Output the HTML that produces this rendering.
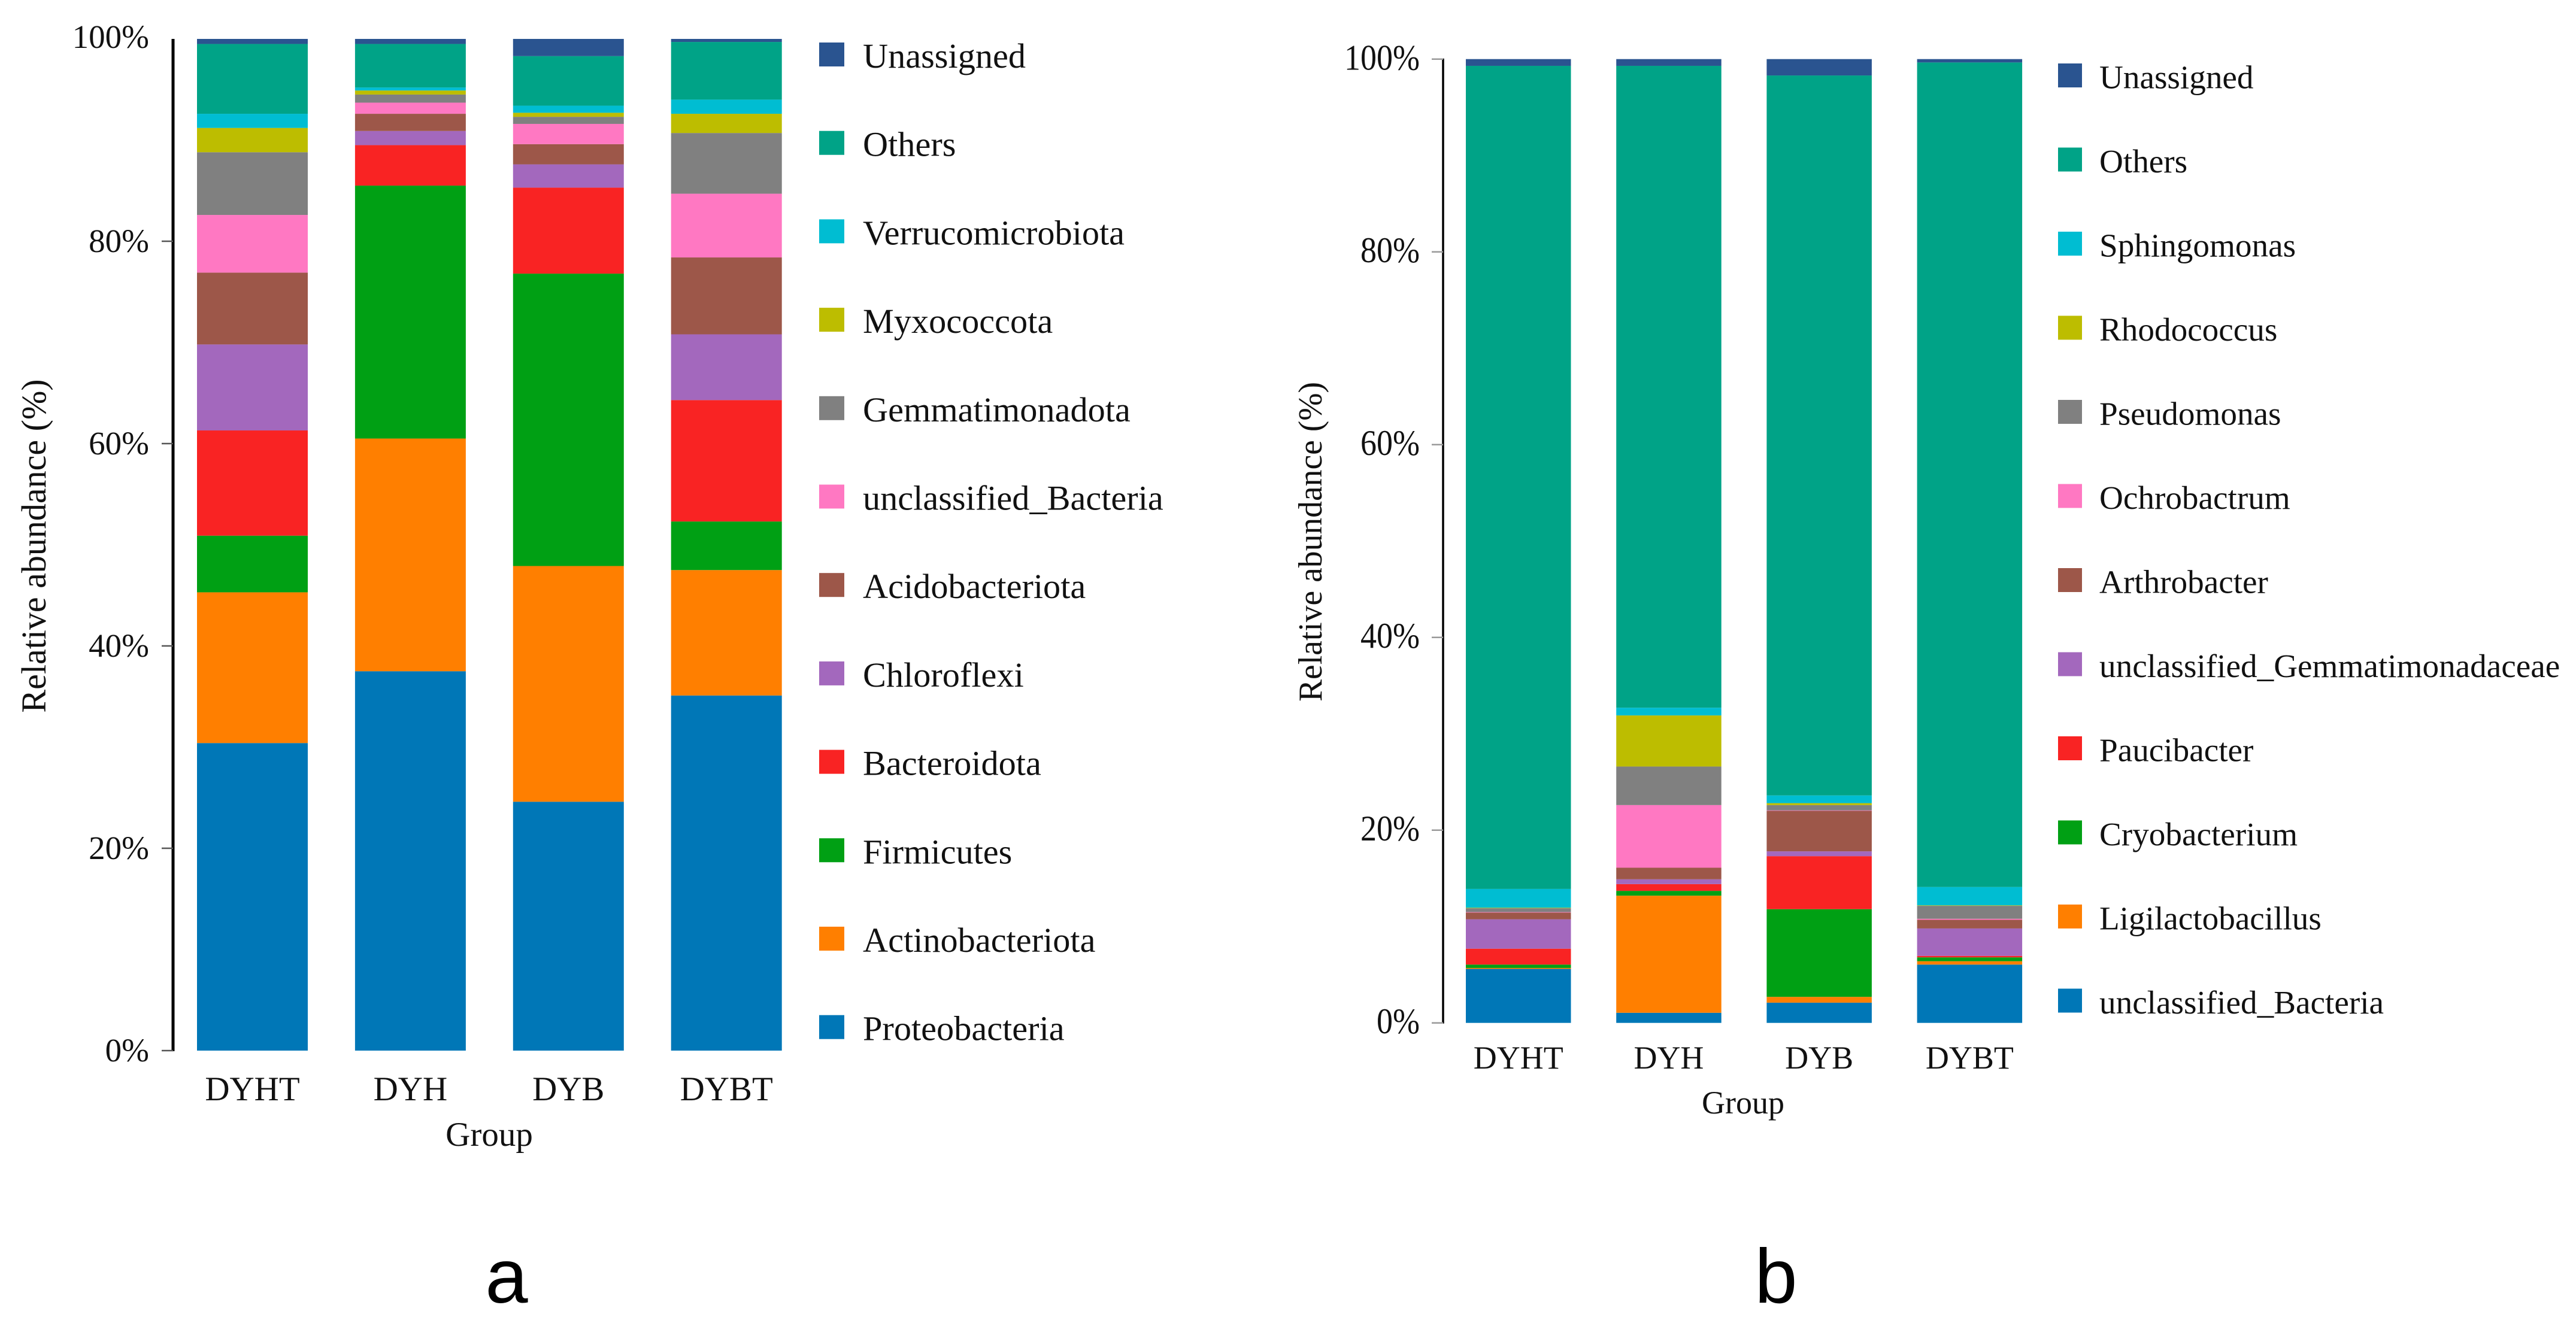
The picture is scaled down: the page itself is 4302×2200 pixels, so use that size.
<!DOCTYPE html>
<html lang="en">
<head>
<meta charset="utf-8">
<title>Relative abundance stacked bar charts</title>
<style>
html,body{margin:0;padding:0;background:#fff;width:4302px;height:2200px;overflow:hidden}
svg{display:block}
text{font-family:"Liberation Serif","Times New Roman",serif;fill:#111}
.panel-letter{font-family:"Liberation Sans",Arial,sans-serif;fill:#000}
</style>
</head>
<body>
<svg id="figure" xmlns="http://www.w3.org/2000/svg" width="4302" height="2200" viewBox="0 0 4302 2200">
  <rect x="0" y="0" width="4302" height="2200" fill="#ffffff"/>
</svg>
<script>
const groups = ['DYHT', 'DYH', 'DYB', 'DYBT'];
const tickValues = [0, 20, 40, 60, 80, 100];
const tickLabels = ['0%', '20%', '40%', '60%', '80%', '100%'];
const taxonColors = ['#0077b7', '#ff7f00', '#00a014', '#f92323', '#a368bd', '#9d5749', '#ff78c2', '#808080', '#bdbd00', '#00bdd2', '#00a387', '#2a5490'];

const phylaNames = ['Proteobacteria', 'Actinobacteriota', 'Firmicutes', 'Bacteroidota', 'Chloroflexi', 'Acidobacteriota', 'unclassified_Bacteria', 'Gemmatimonadota', 'Myxococcota', 'Verrucomicrobiota', 'Others', 'Unassigned'];
const phylaDYHT = [30.4, 14.9, 5.6, 10.4, 8.5, 7.1, 5.7, 6.2, 2.4, 1.4, 6.9, 0.5];
const phylaDYH = [37.5, 23.0, 25.0, 4.0, 1.4, 1.7, 1.1, 0.8, 0.4, 0.3, 4.3, 0.5];
const phylaDYB = [24.6, 23.3, 28.9, 8.5, 2.3, 2.0, 2.0, 0.7, 0.4, 0.7, 4.9, 1.7];
const phylaDYBT = [35.1, 12.4, 4.8, 12.0, 6.5, 7.6, 6.3, 6.0, 1.9, 1.4, 5.7, 0.3];

const generaNames = ['unclassified_Bacteria', 'Ligilactobacillus', 'Cryobacterium', 'Paucibacter', 'unclassified_Gemmatimonadaceae', 'Arthrobacter', 'Ochrobactrum', 'Pseudomonas', 'Rhodococcus', 'Sphingomonas', 'Others', 'Unassigned'];
const generaDYHT = [5.6, 0.1, 0.35, 1.65, 3.05, 0.7, 0.05, 0.4, 0.05, 1.95, 85.4, 0.7];
const generaDYH = [1.05, 12.15, 0.5, 0.7, 0.5, 1.2, 6.5, 4.0, 5.3, 0.8, 66.6, 0.7];
const generaDYB = [2.1, 0.6, 9.1, 5.5, 0.5, 4.2, 0.05, 0.55, 0.2, 0.8, 74.7, 1.7];
const generaDYBT = [6.05, 0.35, 0.4, 0.15, 2.85, 0.9, 0.1, 1.35, 0.05, 1.9, 85.55, 0.35];

const SVG_NS = 'http://www.w3.org/2000/svg';
const figure = document.getElementById('figure');

function make(parent, tag, attrs, content) {
  const node = document.createElementNS(SVG_NS, tag);
  Object.keys(attrs).forEach(function (k) { node.setAttribute(k, attrs[k]); });
  if (content !== undefined) node.textContent = content;
  parent.appendChild(node);
  return node;
}

function drawPanel(p) {
  const yScale = function (v) { return p.baseY - v * p.unit; };
  const xBand = function (i) { return p.barX + i * p.barStep; };
  const xMid = function (i) { return xBand(i) + p.barW / 2; };

  const panel = make(figure, 'g', {});
  
  

  // stacked bars
  p.series.forEach(function (values, g) {
    const barGroup = make(panel, 'g', {});
    
    
    let running = 0;
    values.forEach(function (v, t) {
      const top = yScale(running + v);
      const bottom = yScale(running);
      const seg = make(barGroup, 'rect', { x: xBand(g), y: top, width: p.barW, height: bottom - top, fill: taxonColors[t] });
      
      
      running += v;
    });
  });

  // y axis
  const axisLine = make(panel, 'line', { x1: p.axisX, x2: p.axisX, y1: yScale(100) - p.axisOver, y2: yScale(0) + 1, stroke: '#000', 'stroke-width': p.axisW });
  
  

  tickValues.forEach(function (v, i) {
    if (v !== 100 || p.topTick) {
      const tick = make(panel, 'line', { x1: p.axisX - p.tickLen, x2: p.axisX, y1: yScale(v), y2: yScale(v), stroke: p.tickColor, 'stroke-width': 2.5 });
      
      
    }
    const by = yScale(v) + (v === 100 ? p.tickBase100 : p.tickBase);
    const label = make(panel, 'text', { 'text-anchor': 'end', 'font-size': p.tickFont, transform: 'translate(' + p.tickRight + ' ' + by + ') scale(1 ' + p.tickStretch + ')' }, tickLabels[i]);
    
    
  });

  // x labels
  groups.forEach(function (name, i) {
    const label = make(panel, 'text', { x: xMid(i), y: p.xLabelY, 'text-anchor': 'middle', 'font-size': p.xFont }, name);
    
    
  });

  const xTitle = make(panel, 'text', { x: p.xTitleX, y: p.xTitleY, 'text-anchor': 'middle', 'font-size': p.xFont }, 'Group');
  
  

  const yTitle = make(panel, 'text', { 'text-anchor': 'middle', 'font-size': p.yTitleFont, transform: 'translate(' + p.yTitleX + ' ' + p.yTitleY + ') rotate(-90)' }, 'Relative abundance (%)');
  
  

  // legend (top entry is the last series)
  const legend = make(panel, 'g', {});
  
  
  p.names.slice().reverse().forEach(function (name, i) {
    const cy = p.legendY + i * p.legendStep;
    const entry = make(legend, 'g', {});
    
    
    const swatch = make(entry, 'rect', { x: p.legendX, y: cy - 20, width: p.swatchW, height: 40, fill: taxonColors[p.names.length - 1 - i] });
    
    
    const text = make(entry, 'text', { x: p.legendTextX, y: cy + p.legendBase, 'font-size': p.legendFont }, name);
    
    
  });

  const letter = make(panel, 'text', { x: p.letterX, y: 2176, 'text-anchor': 'middle', 'font-size': 128, class: 'panel-letter' }, p.letter);
  
  
}

drawPanel({
  key: 'phyla', letter: 'a', letterX: 846,
  names: phylaNames, series: [phylaDYHT, phylaDYH, phylaDYB, phylaDYBT],
  baseY: 1755, unit: 16.9,
  barX: 329, barStep: 263.9, barW: 185,
  axisX: 289, axisW: 5, axisOver: 0, tickLen: 19, topTick: false, tickColor: '#555',
  tickFont: 55, tickRight: 249, tickBase: 18, tickBase100: 15, tickStretch: 1,
  xFont: 57, xLabelY: 1838, xTitleX: 817, xTitleY: 1914,
  yTitleFont: 58, yTitleX: 76, yTitleY: 912,
  legendX: 1368, legendY: 91, legendStep: 147.7, swatchW: 42, legendTextX: 1441, legendBase: 22, legendFont: 58.3
});

drawPanel({
  key: 'genera', letter: 'b', letterX: 2966,
  names: generaNames, series: [generaDYHT, generaDYH, generaDYB, generaDYBT],
  baseY: 1708.7, unit: 16.1,
  barX: 2448, barStep: 251.2, barW: 175.5,
  axisX: 2410, axisW: 3.5, axisOver: 1, tickLen: 19, topTick: true, tickColor: '#999',
  tickFont: 54, tickRight: 2371, tickBase: 17.5, tickBase100: 18, tickStretch: 1.12,
  xFont: 54, xLabelY: 1785, xTitleX: 2911, xTitleY: 1860,
  yTitleFont: 55.6, yTitleX: 2207, yTitleY: 905,
  legendX: 3437, legendY: 126, legendStep: 140.5, swatchW: 40, legendTextX: 3506, legendBase: 21.5, legendFont: 55.2
});
</script>
</body>
</html>
